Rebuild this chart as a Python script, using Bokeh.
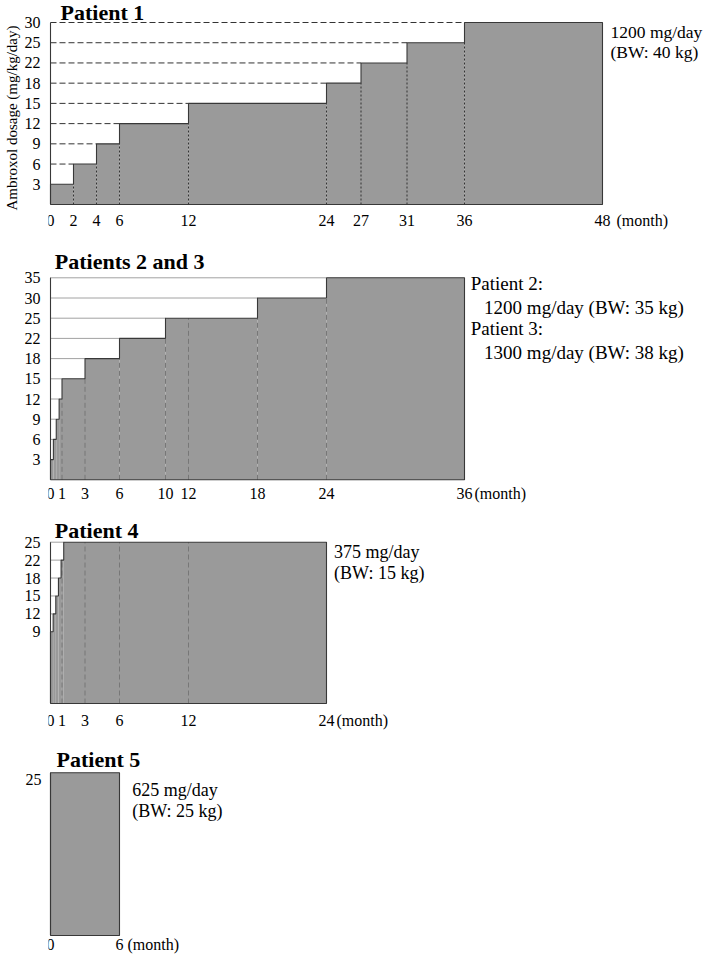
import math
from bokeh.plotting import figure
from bokeh.models import Range1d, FixedTicker
from bokeh.core.properties import value
from bokeh.layouts import column
from bokeh.embed import file_html
from bokeh.resources import INLINE

# ---------------- data ----------------
p1_start = [0, 2, 4, 6, 12, 24, 27, 31, 36]
p1_dose = [3, 6, 9, 12, 15, 18, 22, 25, 30]
p1_end = 48
p1_xticks = [0, 2, 4, 6, 12, 24, 27, 31, 36, 48]
p1_levels = [3, 6, 9, 12, 15, 18, 22, 25, 30]
p1_notes = ["1200 mg/day", "(BW: 40 kg)"]

p23_start = [0, 0.25, 0.5, 0.75, 1, 3, 6, 10, 18, 24]
p23_dose = [3, 6, 9, 12, 15, 18, 22, 25, 30, 35]
p23_end = 36
p23_xticks = [0, 1, 3, 6, 10, 12, 18, 24, 36]
p23_levels = [3, 6, 9, 12, 15, 18, 22, 25, 30, 35]
p23_notes = ["Patient 2:", "1200 mg/day (BW: 35 kg)", "Patient 3:", "1300 mg/day (BW: 38 kg)"]

p4_start = [0, 0.23, 0.46, 0.69, 0.92, 1.15]
p4_dose = [9, 12, 15, 18, 22, 25]
p4_end = 24
p4_xticks = [0, 1, 3, 6, 12, 24]
p4_levels = [9, 12, 15, 18, 22, 25]
p4_notes = ["375 mg/day", "(BW: 15 kg)"]

p5_start = [0]
p5_dose = [25]
p5_end = 6
p5_xticks = [0, 6]
p5_levels = [25]
p5_notes = ["625 mg/day", "(BW: 25 kg)"]

y_title = "Ambroxol dosage (mg/kg/day)"
month_text = "(month)"

# ---------------- style ----------------
SERIF = "Liberation Serif"
GRAY = "#9a9a9a"
DARK = "#383838"
PX = 11.5          # pixels per month
PAD = 2            # px between frame left edge and month 0
CANVAS_W = 701


def make_panel(title, start, dose, end, xticks, levels, notes, *, base, canvas_h,
               z_px, ztop_px, left_b, title_dx, title_gap, note_pos, note_size, month_dx,
               xlab_dy, h_dash, h_color, v_dash, v_color, ylab_shift=0,
               y_label=None, y_standoff=8):
    top = base + len(levels) - 1
    spacing = (z_px - ztop_px) / top
    fw = CANVAS_W - left_b
    x0 = -PAD / PX
    x_range = Range1d(x0, x0 + fw / PX)
    y_range = Range1d(-(canvas_h - z_px) / spacing, top + ztop_px / spacing)
    p = figure(frame_width=fw, frame_height=canvas_h, x_range=x_range, y_range=y_range,
               min_border_left=left_b, min_border_right=0, min_border_top=0,
               min_border_bottom=0, x_axis_location=None, y_axis_location="left",
               output_backend="svg", toolbar_location=None)
    p.outline_line_color = None
    p.xgrid.visible = False
    p.ygrid.visible = False
    p.background_fill_color = "white"
    p.border_fill_color = "white"

    idx = {lv: base + i for i, lv in enumerate(levels)}
    lv_idx = [idx[d] for d in dose]
    rights = list(start[1:]) + [end]

    # filled area
    p.quad(left=start, right=rights, bottom=[0] * len(start), top=lv_idx,
           fill_color=GRAY, line_color=None)

    # vertical dashed guides at ticks
    vx, vy = [], []
    for t in xticks[1:-1]:
        k = max(i for i, s in enumerate(start) if s < t)
        vx.append(t)
        vy.append(lv_idx[k])
    if vx:
        p.segment(x0=vx, y0=[0] * len(vx), x1=vx, y1=vy, line_color=v_color,
                  line_width=1, line_dash=v_dash)

    # horizontal dashed guides
    if len(start) > 1:
        p.segment(x0=[0] * (len(start) - 1), y0=lv_idx[1:], x1=start[1:], y1=lv_idx[1:],
                  line_color=h_color, line_width=1, line_dash=h_dash)

    # step outline
    xs, ys = [0, 0], [0, lv_idx[0]]
    for i in range(1, len(start)):
        xs += [start[i], start[i]]
        ys += [lv_idx[i - 1], lv_idx[i]]
    xs += [end, end, 0]
    ys += [lv_idx[-1], 0, 0]
    p.line(xs, ys, line_color=DARK, line_width=1.1)
    # left axis line
    p.line([0, 0], [0, top], line_color=DARK, line_width=1.1)

    # y axis (real axis, ordinal dose levels)
    shift = ylab_shift / spacing
    ya = p.yaxis[0]
    ya.ticker = FixedTicker(ticks=[v - shift for v in idx.values()])
    ya.major_label_overrides = {v - shift: str(k) for k, v in idx.items()}
    ya.axis_line_color = None
    ya.major_tick_line_color = None
    ya.minor_tick_line_color = None
    ya.major_tick_out = 0
    ya.major_tick_in = 0
    ya.major_label_text_font = SERIF
    ya.major_label_text_font_size = "16px"
    ya.major_label_text_color = "black"
    ya.major_label_standoff = y_standoff
    if y_label:
        ya.axis_label = y_label
        ya.axis_label_text_font = SERIF
        ya.axis_label_text_font_style = "normal"
        ya.axis_label_text_font_size = "15px"
        ya.axis_label_text_color = "black"
        ya.axis_label_standoff = 2

    # month tick labels
    p.text(x=xticks, y=[0] * len(xticks), text=[str(t) for t in xticks],
           y_offset=xlab_dy, text_font=value(SERIF), text_font_size="16px",
           text_align="center", text_baseline="middle", text_color="black")
    p.text(x=[end], y=[0], text=[month_text], x_offset=month_dx, y_offset=xlab_dy,
           text_font=value(SERIF), text_font_size="16px",
           text_align="left", text_baseline="middle", text_color="black")

    # title
    p.text(x=[0], y=[top], text=[title], x_offset=title_dx, y_offset=-title_gap,
           text_font=value(SERIF), text_font_style="bold", text_font_size="22px",
           text_align="left", text_baseline="middle", text_color="black")
    # notes on the right
    for txt, (dx, dy) in zip(notes, note_pos):
        p.text(x=[end], y=[top], text=[txt], x_offset=dx, y_offset=dy,
               text_font=value(SERIF), text_font_size=note_size,
               text_align="left", text_baseline="middle", text_color="black")
    return p


f1 = make_panel("Patient 1", p1_start, p1_dose, p1_end, p1_xticks, p1_levels, p1_notes,
                base=1, canvas_h=235, z_px=204, ztop_px=22, left_b=44,
                title_dx=10, title_gap=10.5, note_pos=[(8, 9), (8, 29)], note_size="17.5px",
                month_dx=14, xlab_dy=16, h_dash="6 3", h_color="#333333", v_dash="2 2",
                v_color="#333333", y_label=y_title)
f2 = make_panel("Patients 2 and 3", p23_start, p23_dose, p23_end, p23_xticks, p23_levels, p23_notes,
                base=1, canvas_h=275, z_px=244.3, ztop_px=42.3, left_b=44,
                title_dx=4.3, title_gap=16.5, note_pos=[(6.3, 5.7), (19.6, 29.4), (6.3, 50.7), (19.6, 74.4)],
                note_size="19px", month_dx=10, xlab_dy=14, h_dash="1 1", h_color="#444444",
                v_dash="5 3", v_color="#777777")
f3 = make_panel("Patient 4", p4_start, p4_dose, p4_end, p4_xticks, p4_levels, p4_notes,
                base=4, canvas_h=230, z_px=193, ztop_px=31.7, left_b=44,
                title_dx=4.3, title_gap=11.7, note_pos=[(7.6, 10), (7.6, 31)], note_size="18px",
                month_dx=10, xlab_dy=16.5, h_dash="1 1", h_color="#444444", v_dash="5 3",
                v_color="#777777")
f4 = make_panel("Patient 5", p5_start, p5_dose, p5_end, p5_xticks, p5_levels, p5_notes,
                base=1, canvas_h=220, z_px=195, ztop_px=32.3, left_b=42,
                title_dx=6, title_gap=13.6, note_pos=[(12.7, 17), (12.7, 38)], note_size="18px",
                month_dx=8, xlab_dy=9, h_dash="1 1", h_color="#444444", v_dash="5 3",
                v_color="#777777", ylab_shift=7, y_standoff=7)

layout = column(f1, f2, f3, f4, spacing=0)
open("out.html", "w").write(file_html(layout, INLINE))
